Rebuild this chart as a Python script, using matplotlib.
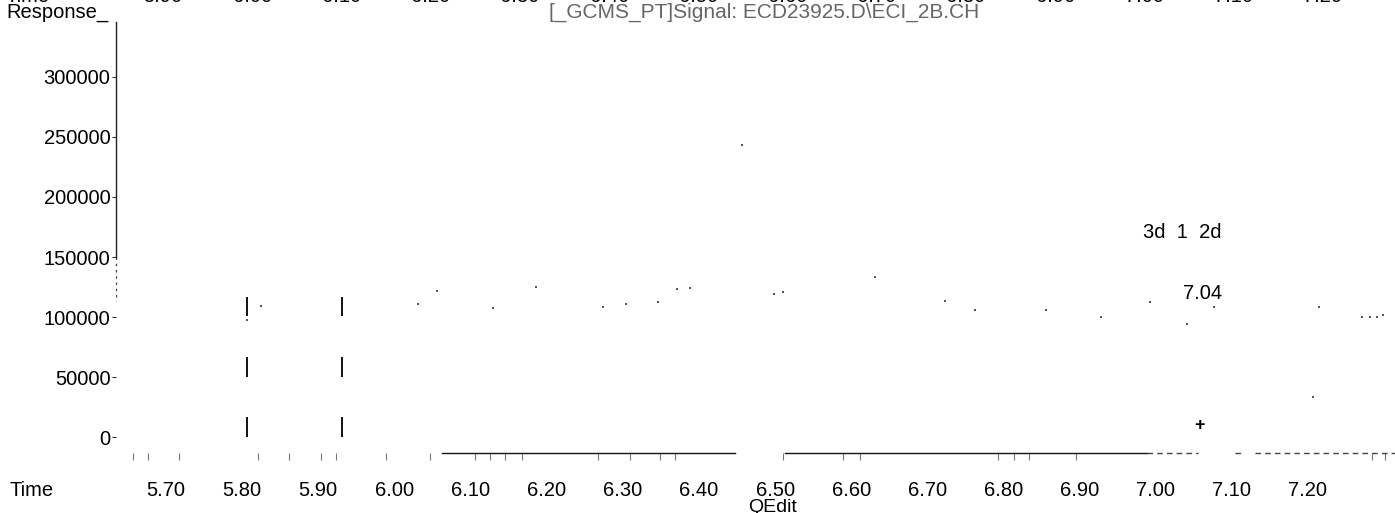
import matplotlib
matplotlib.use("Agg")
import matplotlib.pyplot as plt
import matplotlib.transforms as mtransforms

plt.rcParams['font.family'] = ['Liberation Sans', 'DejaVu Sans']

# ---------------- data ----------------
y_ticks = [0, 50000, 100000, 150000, 200000, 250000, 300000]
y_tick_labels = ["0", "50000", "100000", "150000", "200000", "250000", "300000"]
x_ticks = [5.70, 5.80, 5.90, 6.00, 6.10, 6.20, 6.30, 6.40, 6.50, 6.60,
           6.70, 6.80, 6.90, 7.00, 7.10, 7.20]
x_tick_labels = ["5.70", "5.80", "5.90", "6.00", "6.10", "6.20", "6.30", "6.40",
                 "6.50", "6.60", "6.70", "6.80", "6.90", "7.00", "7.10", "7.20"]
top_row_labels = ["5.90", "6.00", "6.10", "6.20", "6.30", "6.40", "6.50", "6.60",
                  "6.70", "6.80", "6.90", "7.00", "7.10", "7.20"]

# remnants of the signal trace (time, response)
trace_t = [5.825, 5.806, 6.031, 6.056, 6.130, 6.186, 6.274, 6.304, 6.346, 6.371,
           6.388, 6.457, 6.499, 6.510, 6.631, 6.723, 6.763, 6.856, 6.928, 6.993,
           7.041, 7.077, 7.215, 7.207, 7.271, 7.281, 7.291, 7.299]
trace_r = [109000, 97500, 110800, 121700, 107500, 125000, 108300, 110800, 112500, 123300,
           124200, 243300, 119200, 120800, 133300, 113300, 105800, 105800, 100000, 112500,
           94200, 108300, 108300, 33300, 100000, 100000, 100000, 101700]

# integration marker bars
marker_times = [5.807, 5.931]
marker_lo = [0, 50000, 100800]
marker_hi = [16700, 66700, 116700]

# peak annotation
peak_time = 7.04
peak_label = "7.04"
peak_names = "3d  1  2d"
peak_plus = (7.058, 10000)

# minor (irregular) tick marks along the time axis
minor_ticks = [5.657, 5.676, 5.717, 5.821, 5.862, 5.904, 5.923, 5.989,
               6.047, 6.106, 6.126, 6.145, 6.168, 6.268, 6.310, 6.349, 6.369,
               6.511, 6.589, 6.612, 6.793, 6.814, 6.834, 6.895, 7.284, 7.301]

baseline_solid = [(6.0625, 6.447), (6.513, 6.989)]
baseline_dashed = [(6.989, 7.056), (7.104, 7.115), (7.130, 7.314)]

# ---------------- figure ----------------
W, H = 1395, 513
fig = plt.figure(figsize=(W / 100, H / 100), dpi=100)

def px(x, y):
    return x / W, 1 - y / H

x0, x1 = 116, 1395
y_top, y_bot = 22, 453
XMIN, XMAX = 5.6343, 7.3143
YMIN, YMAX = -13333, 345833
ax = fig.add_axes([x0 / W, 1 - y_bot / H, (x1 - x0) / W, (y_bot - y_top) / H])

for s in ['top', 'right', 'bottom']:
    ax.spines[s].set_visible(False)
ax.spines['left'].set_bounds(150000, YMAX)
ax.spines['left'].set_linewidth(1.0)
ax.spines['left'].set_color('#222222')

ax.set_yticks(y_ticks)
ax.set_yticklabels(y_tick_labels, fontsize=14.5)
ax.tick_params(axis='y', length=3, width=0.8, pad=1, color='#333333')

ax.set_xticks(x_ticks)
ax.set_xticklabels(x_tick_labels, fontsize=14.5)
ax.tick_params(axis='x', which='major', length=0, pad=20)
ax.set_xticks(minor_ticks, minor=True)
ax.tick_params(axis='x', which='minor', length=5, width=0.8, color='#777777',
               direction='out')

ax.set_xlim(XMIN, XMAX)
ax.set_ylim(YMIN, YMAX)

# dashed continuation of left axis
ax.plot([XMIN, XMIN], [150000, 113000], color='#444444', lw=0.9,
        ls=(0, (2, 3)), clip_on=False)

# baseline
blend = mtransforms.blended_transform_factory(ax.transData, ax.transAxes)
for a, b in baseline_solid:
    ax.plot([a, b], [0, 0], transform=blend, color='#111111', lw=1.0, clip_on=False)
for a, b in baseline_dashed:
    ax.plot([a, b], [0, 0], transform=blend, color='#444444', lw=1.0,
            ls=(0, (4, 3)), clip_on=False)

# trace remnants
ax.plot(trace_t, trace_r, ls='none', marker='s', ms=1.6, color='#555555',
        markeredgewidth=0)

# integration markers
for t in marker_times:
    ax.vlines([t] * len(marker_lo), marker_lo, marker_hi, colors='#111111', lw=1.4)

# peak annotations
ax.text(peak_time - 0.005, 170000, peak_names, fontsize=14.5, ha='center', va='center')
ax.text(peak_time + 0.022, 120000, peak_label, fontsize=14.5, ha='center', va='center')
ax.text(peak_plus[0], peak_plus[1], "+", fontsize=13, ha='center', va='center',
        fontweight='bold')

ax.set_xlim(XMIN, XMAX)
ax.set_ylim(YMIN, YMAX)

# figure texts
fig.text(*px(6, 12), "Response_", fontsize=14.5, va='center', ha='left')
fig.text(*px(764, 12), r"[_GCMS_PT]Signal: ECD23925.D\ECI_2B.CH", fontsize=15,
         va='center', ha='center', color='#666666')
fig.text(*px(10, 491), "Time", fontsize=14.5, va='center', ha='left')
fig.text(*px(773, 507), "QEdit", fontsize=14, va='center', ha='center')

# cropped top row (only the bottom edge of the text is visible)
fig.text(*px(5, 2), "Time", fontsize=14.5, va='baseline', ha='left')
n = len(top_row_labels)
for i, lab in enumerate(top_row_labels):
    xc = 163 + i * (1323 - 163) / (n - 1)
    fig.text(*px(xc, 2), lab, fontsize=14.5, va='baseline', ha='center')

fig.savefig("out.png", dpi=100)
